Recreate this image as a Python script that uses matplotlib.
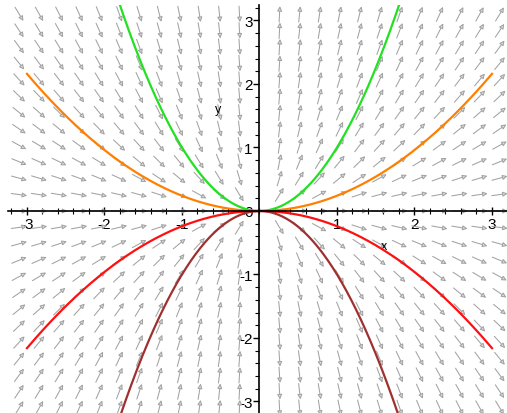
import numpy as np
import matplotlib
matplotlib.use("Agg")
import matplotlib.pyplot as plt
from matplotlib.patches import FancyArrowPatch
from matplotlib.ticker import MultipleLocator, FixedLocator

# ---- data ----
# direction field of dy/dx = 2*y/x, sampled on a grid
grid_x = np.linspace(-3.1, 3.1, 25)
grid_y = np.linspace(-3.1, 3.1, 25)
# solution curves y = c * x^2
curve_c = [1.0, 0.24, -0.24, -1.0]
curve_colors = ["#22e022", "#ff8000", "#ff1010", "#a03030"]
curve_x_range = (-3.0, 3.0)
xtick_vals = [-3, -2, -1, 1, 2, 3]
xtick_labels = ["-3", "-2", "-1", "1", "2", "3"]
ytick_vals = [-3, -2, -1, 0, 1, 2, 3]
ytick_labels = ["-3", "-2", "-1", "0", "1", "2", "3"]

W, H = 507, 414
fig = plt.figure(figsize=(W / 100, H / 100), dpi=100)
xlim = (-3.25, 3.2)
ylim = (-3.2, 3.25)
ax = fig.add_axes([7.6 / W, -1.2 / H, 499.9 / W, 409.6 / H])
ax.set_xlim(*xlim)
ax.set_ylim(*ylim)

# pixel scale (px per data unit)
sx = 499.9 / (xlim[1] - xlim[0])
sy = 409.6 / (ylim[1] - ylim[0])
L = 16.0  # arrow length in px

for x in grid_x:
    if abs(x) < 1e-9:
        continue
    for y in grid_y:
        m = 2 * y / x
        px, py = sx, sy * m
        n = np.hypot(px, py)
        dx = L * px / n / sx
        dy = L * py / n / sy
        a = FancyArrowPatch((x - dx / 2, y - dy / 2), (x + dx / 2, y + dy / 2),
                            arrowstyle="-|>,head_length=2.8,head_width=1.4",
                            mutation_scale=1, lw=0.75, ec="#a2a2a2", fc="#dedede",
                            shrinkA=0, shrinkB=0, zorder=2)
        ax.add_patch(a)

xc = np.linspace(curve_x_range[0], curve_x_range[1], 500)
for c, col in zip(curve_c, curve_colors):
    ax.plot(xc, c * xc ** 2, color=col, lw=1.6, zorder=4)

# axes through origin
for s in ["top", "right"]:
    ax.spines[s].set_visible(False)
ax.spines["left"].set_position(("data", 0))
ax.spines["bottom"].set_position(("data", 0))
for s in ["left", "bottom"]:
    ax.spines[s].set_linewidth(1.2)
    ax.spines[s].set_zorder(5)

ax.xaxis.set_major_locator(FixedLocator(xtick_vals))
ax.set_xticklabels(xtick_labels)
ax.yaxis.set_major_locator(FixedLocator(ytick_vals))
ax.set_yticklabels(ytick_labels)
ax.xaxis.set_minor_locator(MultipleLocator(0.2))
ax.yaxis.set_minor_locator(MultipleLocator(0.2))
ax.tick_params(axis="x", which="major", direction="inout", length=6, width=1, pad=1,
               labelsize=11)
ax.tick_params(axis="x", which="minor", direction="inout", length=4, width=0.8)
ax.tick_params(axis="y", which="major", direction="out", length=4, width=1, pad=1,
               labelsize=11)
ax.tick_params(axis="y", which="minor", direction="out", length=3, width=0.8)
for lab in ax.get_xticklabels() + ax.get_yticklabels():
    lab.set_family("Liberation Sans")

ax.text(1.6, -0.55, "x", fontsize=9, family="Liberation Sans", ha="center", va="center")
ax.text(-0.54, 1.6, "y", fontsize=9, family="Liberation Sans", ha="center", va="center")

fig.savefig("out.png", dpi=100)
